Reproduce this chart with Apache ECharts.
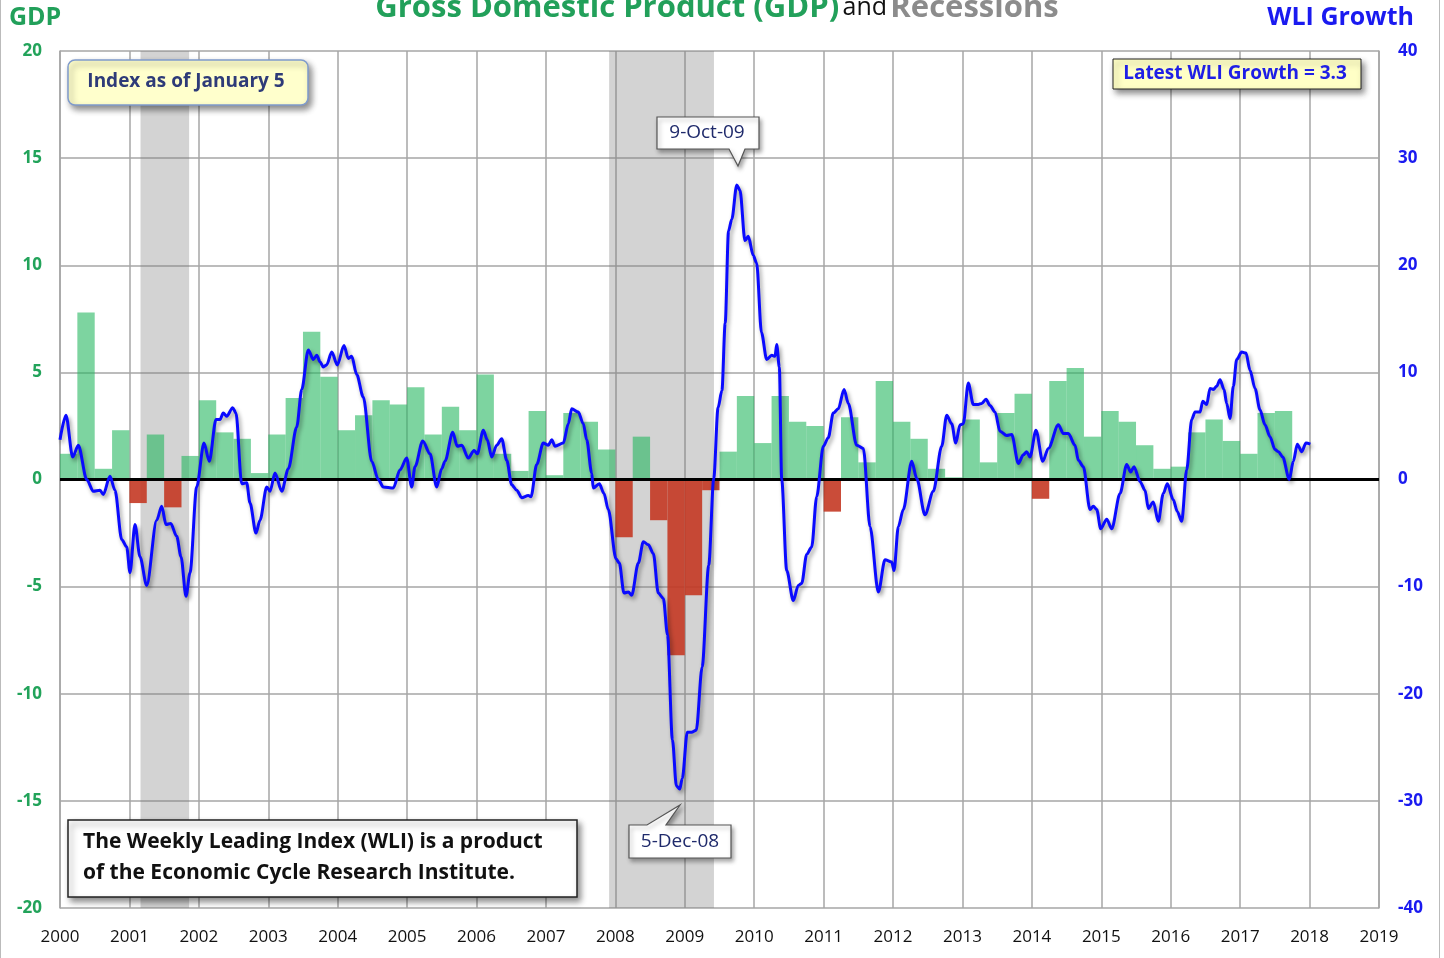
<!DOCTYPE html>
<html><head><meta charset="utf-8">
<script src="https://cdn.jsdelivr.net/npm/echarts@6/dist/echarts.min.js"></script>
<style>html,body{margin:0;padding:0;background:#fff;}#c{width:1444px;height:958px;}</style>
</head><body><div id="c"></div>
<script>
// ---- data ----
const years = [2000,2001,2002,2003,2004,2005,2006,2007,2008,2009,2010,2011,2012,2013,2014,2015,2016,2017,2018,2019];
const gdpTicks = [-20,-15,-10,-5,0,5,10,15,20];
const wliTicks = [-40,-30,-20,-10,0,10,20,30,40];
const gdpQuarters = [
 '2000Q1','2000Q2','2000Q3','2000Q4','2001Q1','2001Q2','2001Q3','2001Q4',
 '2002Q1','2002Q2','2002Q3','2002Q4','2003Q1','2003Q2','2003Q3','2003Q4',
 '2004Q1','2004Q2','2004Q3','2004Q4','2005Q1','2005Q2','2005Q3','2005Q4',
 '2006Q1','2006Q2','2006Q3','2006Q4','2007Q1','2007Q2','2007Q3','2007Q4',
 '2008Q1','2008Q2','2008Q3','2008Q4','2009Q1','2009Q2','2009Q3','2009Q4',
 '2010Q1','2010Q2','2010Q3','2010Q4','2011Q1','2011Q2','2011Q3','2011Q4',
 '2012Q1','2012Q2','2012Q3','2012Q4','2013Q1','2013Q2','2013Q3','2013Q4',
 '2014Q1','2014Q2','2014Q3','2014Q4','2015Q1','2015Q2','2015Q3','2015Q4',
 '2016Q1','2016Q2','2016Q3','2016Q4','2017Q1','2017Q2','2017Q3'];
const gdpValues = [
 1.2,7.8,0.5,2.3, -1.1,2.1,-1.3,1.1,
 3.7,2.2,1.9,0.3, 2.1,3.8,6.9,4.8,
 2.3,3.0,3.7,3.5, 4.3,2.1,3.4,2.3,
 4.9,1.2,0.4,3.2, 0.2,3.1,2.7,1.4,
 -2.7,2.0,-1.9,-8.2, -5.4,-0.5,1.3,3.9,
 1.7,3.9,2.7,2.5, -1.5,2.9,0.8,4.6,
 2.7,1.9,0.5,0.1, 2.8,0.8,3.1,4.0,
 -0.9,4.6,5.2,2.0, 3.2,2.7,1.6,0.5,
 0.6,2.2,2.8,1.8, 1.2,3.1,3.2];
const recessionStart = [2001.16, 2007.91];
const recessionEnd   = [2001.86, 2009.42];
const wliTime = [
 2000.000,2000.086,2000.183,2000.264,2000.385,2000.480,2000.576,2000.624,2000.720,2000.792,2000.889,2000.961,
 2001.008,2001.080,2001.152,2001.249,2001.393,2001.465,2001.527,2001.595,2001.681,2001.743,2001.815,2001.873,2001.969,
 2002.074,2002.151,2002.247,2002.305,2002.352,2002.401,2002.488,2002.535,2002.617,2002.689,2002.737,2002.823,2002.881,2002.978,
 2003.025,2003.097,2003.194,2003.289,2003.410,2003.482,2003.577,2003.649,2003.698,2003.745,2003.793,2003.842,2003.914,2003.995,
 2004.091,2004.153,2004.202,2004.274,2004.369,2004.490,2004.585,2004.657,2004.801,2004.898,2004.994,
 2005.066,2005.114,2005.225,2005.330,2005.426,2005.498,2005.546,2005.657,2005.723,2005.787,2005.882,2005.964,
 2006.011,2006.098,2006.155,2006.219,2006.291,2006.363,2006.435,2006.507,2006.579,2006.651,2006.746,2006.785,2006.867,2006.962,
 2007.034,2007.083,2007.131,2007.250,2007.322,2007.371,2007.466,2007.538,2007.587,2007.659,2007.682,2007.769,2007.836,2007.898,
 2008.009,2008.057,2008.124,2008.187,2008.235,2008.331,2008.403,2008.475,2008.547,2008.618,2008.691,2008.751,2008.822,2008.879,2008.927,2008.964,
 2009.036,2009.098,2009.165,2009.250,2009.345,2009.417,2009.479,2009.535,2009.582,2009.630,2009.677,2009.749,2009.795,2009.867,2009.915,2009.987,
 2010.035,2010.105,2010.180,2010.252,2010.300,2010.324,2010.362,2010.396,2010.468,2010.563,2010.635,2010.684,2010.756,2010.828,2010.900,2010.996,
 2011.067,2011.139,2011.211,2011.294,2011.356,2011.476,2011.572,2011.668,2011.788,2011.884,2011.981,
 2012.014,2012.076,2012.148,2012.269,2012.341,2012.460,2012.580,2012.701,2012.773,2012.845,2012.903,2012.965,
 2013.012,2013.084,2013.156,2013.228,2013.277,2013.339,2013.397,2013.469,2013.541,2013.637,2013.709,2013.805,2013.877,2013.925,2013.973,
 2014.059,2014.156,2014.237,2014.381,2014.453,2014.525,2014.621,2014.669,2014.741,2014.837,2014.885,2014.934,2014.991,
 2015.078,2015.150,2015.270,2015.366,2015.423,2015.471,2015.558,2015.630,2015.677,2015.749,2015.821,2015.893,2015.951,
 2016.037,2016.095,2016.158,2016.230,2016.302,2016.350,2016.422,2016.461,2016.518,2016.566,2016.614,2016.662,2016.710,2016.768,2016.806,2016.854,2016.902,2016.950,
 2017.022,2017.084,2017.142,2017.214,2017.286,2017.358,2017.430,2017.502,2017.550,2017.613,2017.708,2017.766,2017.823,2017.887,2017.949,
 2018.011];
const wliValue = [
 3.7,6.0,2.1,3.2,0.0,-1.1,-1.0,-1.4,0.3,-1.0,-5.6,-6.3,
 -8.7,-4.2,-7.2,-9.9,-3.8,-2.5,-4.2,-4.1,-5.3,-7.2,-10.9,-8.7,-0.7,
 3.4,1.7,5.6,5.6,6.2,5.9,6.7,6.2,-0.4,-0.3,-2.2,-5.0,-3.8,-0.7,
 -1.1,0.6,-1.1,1.0,4.9,8.4,12.1,11.2,11.6,11.0,10.5,10.7,11.9,10.7,
 12.5,11.3,11.5,9.8,7.7,1.7,0.0,-0.7,-0.8,0.9,2.0,
 -0.7,1.2,3.6,2.4,-0.7,1.0,1.7,4.4,3.1,3.2,2.0,2.7,
 2.4,4.6,3.7,2.1,3.2,3.8,1.8,-0.5,-1.0,-1.7,-1.5,-1.6,1.4,3.4,
 3.2,3.7,3.1,3.4,5.2,6.6,6.3,5.2,3.7,0.6,-0.8,-0.4,-1.3,-2.8,
 -7.4,-7.8,-10.6,-10.5,-10.8,-7.8,-5.8,-6.1,-6.9,-10.6,-11.1,-14.5,-24.3,-28.6,-28.9,-27.9,
 -23.6,-23.6,-23.4,-17.5,-8.0,0.1,6.7,8.3,14.6,23.2,24.3,27.5,27.0,22.3,22.7,20.9,
 20.2,13.7,11.2,11.6,11.5,12.6,10.5,0.0,-8.5,-11.3,-9.9,-9.7,-7.0,-6.3,-1.6,3.1,
 3.9,6.2,6.6,8.4,7.1,3.2,2.9,-4.4,-10.5,-7.5,-7.7,
 -8.5,-4.4,-2.8,1.7,0.1,-3.3,-1.1,3.1,6.0,5.2,3.4,5.1,
 5.2,9.0,7.0,7.0,7.1,7.5,6.9,6.3,4.5,4.1,4.2,1.5,2.3,2.6,2.1,
 4.6,1.7,2.9,5.1,4.3,4.3,3.2,1.8,1.2,-2.8,-2.5,-2.8,-4.6,
 -3.7,-4.6,-1.3,1.4,0.7,1.2,-0.2,-1.0,-2.7,-2.1,-3.9,-1.3,-0.4,
 -1.9,-3.0,-3.9,0.9,5.6,6.3,6.3,7.3,7.0,8.5,8.4,8.7,9.3,8.4,7.1,5.7,8.7,11.2,
 11.9,11.8,10.2,8.5,6.5,5.1,4.0,2.8,2.6,2.1,0.0,1.7,3.3,2.6,3.4,
 3.3];

// ---- build ----
const GREEN_TXT = '#22a35a', BLUE_TXT = '#1a1af0';
const FONT = '"Open Sans", Lato, sans-serif';
const barData = gdpQuarters.map((q, i) => {
  const yr = parseInt(q.slice(0, 4), 10), qi = parseInt(q.slice(5), 10) - 1;
  return [yr + qi / 4, yr + (qi + 1) / 4, gdpValues[i]];
});
const recData = recessionStart.map((s, i) => [s, recessionEnd[i]]);
const wliData = wliTime.map((t, i) => [t, wliValue[i]]);

const chart = echarts.init(document.getElementById('c'), null, {renderer: 'canvas'});
const shadow = {shadowBlur: 6, shadowColor: 'rgba(0,0,0,0.45)', shadowOffsetX: 3, shadowOffsetY: 4};
const smallShadow = {shadowBlur: 4, shadowColor: 'rgba(0,0,0,0.35)', shadowOffsetX: 2, shadowOffsetY: 3};

chart.setOption({
  animation: false,
  backgroundColor: '#fff',
  grid: {left: 60, right: 65, top: 51, bottom: 50, containLabel: false},
  xAxis: {
    type: 'value', min: years[0], max: years[years.length - 1], interval: 1,
    axisLine: {show: true, lineStyle: {color: '#a6a6a6', width: 1.5}},
    axisTick: {show: false},
    splitLine: {show: true, lineStyle: {color: '#a6a6a6', width: 1.5}},
    axisLabel: {margin: 21, color: '#111', fontSize: 17, fontFamily: FONT,
      formatter: v => String(years[Math.round(v - years[0])])}
  },
  yAxis: [{
    type: 'value', min: gdpTicks[0], max: gdpTicks[gdpTicks.length - 1], interval: 5, position: 'left',
    axisLine: {show: true, lineStyle: {color: '#a6a6a6', width: 1.5}},
    axisTick: {show: false},
    splitLine: {show: true, lineStyle: {color: '#a6a6a6', width: 1.5}},
    axisLabel: {margin: 18, color: GREEN_TXT, fontSize: 17, fontWeight: 'bold', fontFamily: FONT,
      formatter: v => String(gdpTicks[Math.round((v - gdpTicks[0]) / 5)])}
  }, {
    type: 'value', min: wliTicks[0], max: wliTicks[wliTicks.length - 1], interval: 10, position: 'right',
    axisLine: {show: true, lineStyle: {color: '#a6a6a6', width: 1.5}},
    axisTick: {show: false},
    splitLine: {show: false},
    axisLabel: {margin: 19, color: BLUE_TXT, fontSize: 17, fontWeight: 'bold', fontFamily: FONT,
      formatter: v => String(wliTicks[Math.round((v - wliTicks[0]) / 10)])}
  }],
  series: [{
    name: 'Recessions', type: 'custom', z: 1, silent: true,
    encode: {x: [0, 1]},
    data: recData,
    renderItem: (params, api) => {
      const a = api.coord([api.value(0), 0]), b = api.coord([api.value(1), 0]);
      const cs = params.coordSys;
      return {type: 'rect', shape: {x: a[0], y: cs.y, width: b[0] - a[0], height: cs.height},
        style: {fill: 'rgba(120,120,120,0.33)'}};
    }
  }, {
    name: 'GDP', type: 'custom', z: 2, silent: true,
    encode: {x: [0, 1], y: 2},
    data: barData,
    renderItem: (params, api) => {
      const v = api.value(2);
      const p0 = api.coord([api.value(0), v]), p1 = api.coord([api.value(1), 0]);
      return {type: 'rect',
        shape: {x: p0[0], y: Math.min(p0[1], p1[1]), width: p1[0] - p0[0], height: Math.abs(p1[1] - p0[1])},
        style: {fill: v >= 0 ? 'rgba(38,183,97,0.6)' : 'rgba(196,56,36,0.9)'}};
    },
    markLine: {silent: true, symbol: 'none', label: {show: false},
      lineStyle: {color: '#000', width: 3, type: 'solid'}, emphasis: {disabled: true},
      data: [{yAxis: 0}]}
  }, {
    name: 'WLI Growth', type: 'line', yAxisIndex: 1, z: 5, silent: true,
    data: wliData, showSymbol: false, smooth: 0.3, smoothMonotone: 'x',
    lineStyle: {color: '#0a0aff', width: 3, shadowBlur: 4, shadowColor: 'rgba(0,0,0,0.4)', shadowOffsetX: 2, shadowOffsetY: 3}
  }],
  graphic: [
    {type: 'line', shape: {x1: 0.5, y1: 0, x2: 0.5, y2: 958}, style: {stroke: '#bbb', lineWidth: 1}},
    {type: 'line', shape: {x1: 1439.5, y1: 0, x2: 1439.5, y2: 958}, style: {stroke: '#bbb', lineWidth: 1}},
    {type: 'text', x: 717, y: 8, style: {
      text: '{g|Gross Domestic Product (GDP)} {a|and} {r|Recessions}',
      align: 'center', verticalAlign: 'middle',
      rich: {
        g: {fontSize: 31, fontWeight: 'bold', fill: '#22a05a', fontFamily: FONT},
        a: {fontSize: 25, fontWeight: 'normal', fill: '#111', fontFamily: FONT},
        r: {fontSize: 31, fontWeight: 'bold', fill: '#8c8c8c', fontFamily: FONT}
      }}},
    {type: 'text', x: 9, y: 18, style: {text: 'GDP', fontSize: 25, fontWeight: 'bold', fill: '#22a05a',
      fontFamily: FONT, align: 'left', verticalAlign: 'middle'}},
    {type: 'text', x: 1414, y: 18, style: {text: 'WLI Growth', fontSize: 25, fontWeight: 'bold', fill: BLUE_TXT,
      fontFamily: FONT, align: 'right', verticalAlign: 'middle'}},
    // Index as of January 5
    {type: 'rect', z: 50, shape: {x: 68, y: 60, width: 240, height: 45, r: 7},
      style: Object.assign({fill: '#ffffcc', stroke: '#7f9bcc', lineWidth: 1.5}, shadow)},
    {type: 'text', z: 51, x: 186, y: 82, style: {text: 'Index as of January 5', fontSize: 19, fontWeight: 'bold',
      fill: '#2e3b78', fontFamily: FONT, align: 'center', verticalAlign: 'middle'}},
    // Latest WLI
    {type: 'rect', z: 50, shape: {x: 1113, y: 59, width: 248, height: 30},
      style: Object.assign({fill: '#ffffc6', stroke: '#222', lineWidth: 1}, shadow)},
    {type: 'text', z: 51, x: 1235, y: 74, style: {text: 'Latest WLI Growth = 3.3', fontSize: 19, fontWeight: 'bold',
      fill: '#1f1fe6', fontFamily: FONT, align: 'center', verticalAlign: 'middle'}},
    // footnote
    {type: 'rect', z: 50, shape: {x: 68, y: 820, width: 509, height: 77},
      style: Object.assign({fill: '#fff', stroke: '#222', lineWidth: 1.5}, shadow)},
    {type: 'text', z: 51, x: 83, y: 842, style: {text: 'The Weekly Leading Index (WLI) is a product', fontSize: 21,
      fontWeight: 'bold', fill: '#111', fontFamily: FONT, align: 'left', verticalAlign: 'middle'}},
    {type: 'text', z: 51, x: 83, y: 873, style: {text: 'of the Economic Cycle Research Institute.', fontSize: 21,
      fontWeight: 'bold', fill: '#111', fontFamily: FONT, align: 'left', verticalAlign: 'middle'}},
    // callout 9-Oct-09
    {type: 'polygon', z: 50, shape: {points: [[657,117],[759,117],[759,149],[745,149],[738,166],[729,149],[657,149]]},
      style: Object.assign({fill: '#fff', stroke: '#555', lineWidth: 1.2}, smallShadow)},
    {type: 'text', z: 51, x: 707, y: 133, style: {text: '9-Oct-09', fontSize: 19, fill: '#1f2a6b',
      fontFamily: FONT, align: 'center', verticalAlign: 'middle'}},
    // callout 5-Dec-08
    {type: 'polygon', z: 50, shape: {points: [[629,825],[647,825],[680,805],[666,825],[731,825],[731,858],[629,858]]},
      style: Object.assign({fill: '#fff', stroke: '#555', lineWidth: 1.2}, smallShadow)},
    {type: 'text', z: 51, x: 680, y: 842, style: {text: '5-Dec-08', fontSize: 19, fill: '#1f2a6b',
      fontFamily: FONT, align: 'center', verticalAlign: 'middle'}}
  ]
});
</script></body></html>
